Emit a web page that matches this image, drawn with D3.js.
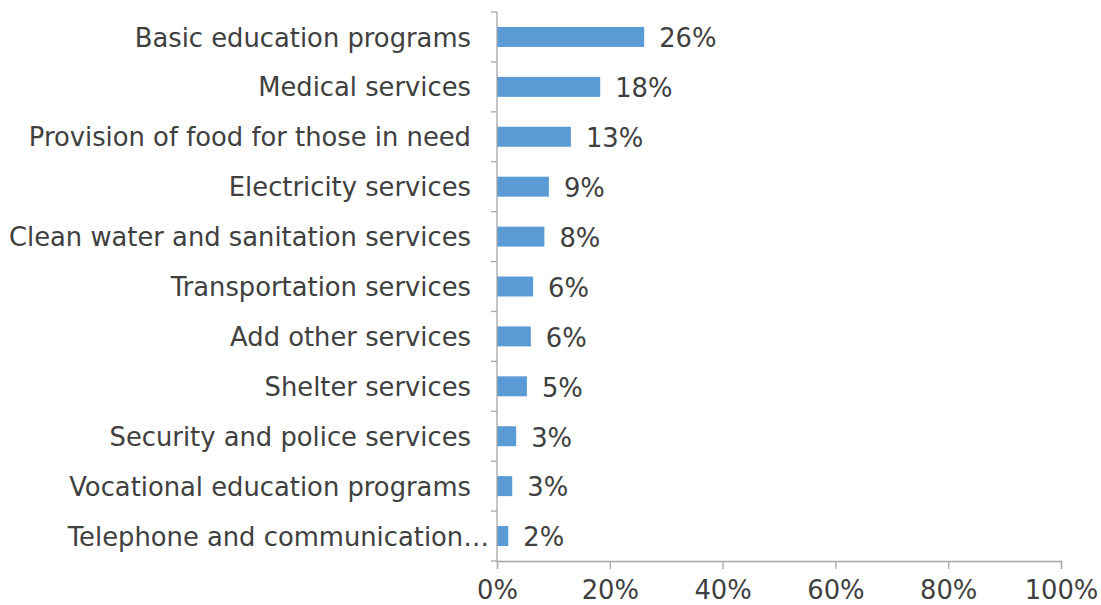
<!DOCTYPE html>
<html>
<head>
<meta charset="utf-8">
<script src="https://cdn.jsdelivr.net/npm/d3@7"></script>
<style>
  html, body { margin: 0; padding: 0; background: #fff; }
  svg { display: block; font-family: "DejaVu Sans", Verdana, sans-serif; }
</style>
</head>
<body>
<svg id="chart" width="1101" height="605"></svg>
<script>
// Share of respondents naming each service (fraction of total)
const categories = [
  "Basic education programs",
  "Medical services",
  "Provision of food for those in need",
  "Electricity services",
  "Clean water and sanitation services",
  "Transportation services",
  "Add other services",
  "Shelter services",
  "Security and police services",
  "Vocational education programs",
  "Telephone and communication…"
];
const shares = [0.261, 0.183, 0.131, 0.092, 0.084, 0.064, 0.06, 0.053, 0.034, 0.027, 0.02];
const xTicks = [0, 0.2, 0.4, 0.6, 0.8, 1.0];

const plotTop = 12, plotBottom = 561, plotLeft = 497, plotRight = 1061;
const svg = d3.select("#chart");

const x = d3.scaleLinear().domain([0, 1]).range([plotLeft, plotRight]);
const y = d3.scaleBand().domain(categories).range([plotTop, plotBottom]).paddingInner(0.6).paddingOuter(0.3);

const axisColor = "#a6a6a6";
const textColor = "#404040";
const fontSize = 25.8;

// Bars
svg.append("g").selectAll("rect").data(categories).join("rect")
  .attr("x", x(0))
  .attr("y", d => y(d))
  .attr("width", (d, i) => x(shares[i]) - x(0))
  .attr("height", y.bandwidth())
  .attr("fill", "#5b9bd5");

// Value labels
const pct = d3.format(".0%");
svg.append("g").selectAll("text").data(categories).join("text")
  .attr("x", (d, i) => x(shares[i]) + 15)
  .attr("y", d => y(d) + y.bandwidth() / 2)
  .attr("dy", "0.4em")
  .attr("font-size", fontSize)
  .attr("fill", textColor)
  .text((d, i) => pct(shares[i]));

// Category axis: boundary ticks between bands
const yAxis = svg.append("g");
yAxis.append("line")
  .attr("x1", x(0)).attr("x2", x(0))
  .attr("y1", plotTop).attr("y2", plotBottom)
  .attr("stroke", axisColor).attr("stroke-width", 1.3);
yAxis.selectAll("line.tick").data(d3.range(categories.length + 1)).join("line")
  .attr("class", "tick")
  .attr("x1", x(0) - 6).attr("x2", x(0))
  .attr("y1", i => plotTop + i * (plotBottom - plotTop) / categories.length)
  .attr("y2", i => plotTop + i * (plotBottom - plotTop) / categories.length)
  .attr("stroke", axisColor).attr("stroke-width", 1.3);
yAxis.selectAll("text").data(categories).join("text")
  .attr("x", (d, i) => i === categories.length - 1 ? x(0) - 8 : x(0) - 26)
  .attr("y", d => y(d) + y.bandwidth() / 2)
  .attr("dy", "0.37em")
  .attr("text-anchor", "end")
  .attr("font-size", fontSize)
  .attr("fill", textColor)
  .text(d => d);

// Value axis at the bottom
const xAxis = svg.append("g").attr("transform", `translate(0,${plotBottom})`)
  .call(d3.axisBottom(x).tickValues(xTicks).tickFormat(d3.format(".0%")).tickSize(8).tickPadding(12));
xAxis.select(".domain").attr("stroke", axisColor).attr("stroke-width", 1.3);
xAxis.selectAll(".tick line").attr("stroke", axisColor).attr("stroke-width", 1.3);
xAxis.selectAll(".tick text")
  .attr("font-size", fontSize)
  .attr("font-family", "DejaVu Sans, Verdana, sans-serif")
  .attr("fill", textColor);
</script>
</body>
</html>
